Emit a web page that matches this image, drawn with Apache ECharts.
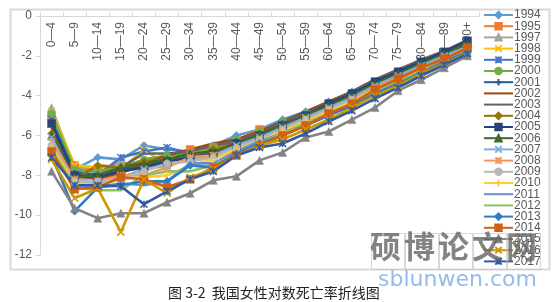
<!DOCTYPE html>
<html><head><meta charset="utf-8">
<script src="https://cdn.jsdelivr.net/npm/echarts@6/dist/echarts.min.js"></script>
<style>html,body{margin:0;padding:0;background:#fff;}#c{width:558px;height:302px;}</style>
</head><body><div id="c"></div>
<script>
const categories = ['0—4','5—9','10—14','15—19','20—24','25—29','30—34','35—39','40—44','45—49','50—54','55—59','60—64','65—69','70—74','75—79','80—84','85—89','90+'];
const yTicks = [0,-2,-4,-6,-8,-10,-12];
const seriesNames = ['1994','1995','1997','1998','1999','2000','2001','2002','2003','2004','2005','2006','2007','2008','2009','2010','2011','2012','2013','2014','2015','2016','2017'];
const seriesColors = ['#5B9BD5','#ED7D31','#A5A5A5','#FFC000','#4472C4','#70AD47','#255E91','#9E480E','#636363','#997300','#264478','#43682B','#7CAFDD','#F1975A','#B7B7B7','#FFCD33','#698ED0','#8CC168','#327DC2','#D26012','#848484','#CC9A00','#335AA1'];
const seriesMarkers = ['diamond','rect','triangle','x','star','circle','plus','none','none','diamond','rect','triangle','x','star','circle','plus','none','none','diamond','rect','triangle','x','star'];

const v1994 = [-5.0,-7.7,-7.1,-7.2,-6.5,-6.7,-6.8,-6.5,-6.0,-5.7,-5.2,-4.8,-4.3,-3.8,-3.3,-2.8,-2.3,-1.85,-1.45];
const v1995 = [-5.0,-7.5,-7.7,-7.8,-7.6,-7.3,-6.7,-6.6,-6.3,-5.7,-5.8,-5.5,-4.9,-4.4,-3.7,-3.1,-2.55,-2.1,-1.55];
const v1997 = [-4.6,-7.6,-7.9,-7.3,-7.7,-7.4,-7.0,-6.9,-6.4,-6.0,-5.5,-5.0,-4.5,-4.0,-3.4,-2.9,-2.4,-1.95,-1.5];
const v1998 = [-4.8,-7.5,-7.6,-7.7,-6.7,-7.5,-7.1,-6.7,-6.3,-6.0,-5.6,-5.2,-4.7,-4.2,-3.6,-3.1,-2.6,-2.1,-1.6];
const v1999 = [-5.2,-7.8,-8.0,-7.1,-6.8,-6.6,-6.9,-6.8,-6.5,-6.1,-5.6,-5.3,-4.8,-4.3,-3.8,-3.3,-2.75,-2.25,-1.75];
const v2000 = [-4.9,-7.7,-7.8,-7.6,-7.2,-7.0,-7.0,-6.6,-6.2,-5.8,-5.3,-4.9,-4.4,-3.9,-3.3,-2.8,-2.3,-1.85,-1.4];
const v2001 = [-5.3,-7.9,-8.0,-7.7,-7.5,-7.2,-7.0,-6.8,-6.3,-5.9,-5.4,-5.0,-4.5,-4.0,-3.4,-2.9,-2.4,-1.9,-1.4];
const v2002 = [-5.6,-8.0,-8.2,-7.9,-7.4,-7.0,-6.7,-6.4,-6.2,-5.8,-5.3,-4.8,-4.3,-3.8,-3.2,-2.7,-2.25,-1.8,-1.3];
const v2003 = [-5.8,-8.1,-8.1,-7.6,-6.9,-6.9,-6.8,-6.5,-6.3,-5.9,-5.3,-4.9,-4.4,-3.8,-3.2,-2.7,-2.2,-1.75,-1.2];
const v2004 = [-5.9,-8.2,-7.5,-7.6,-7.3,-7.2,-7.1,-6.7,-6.4,-6.0,-5.5,-5.0,-4.5,-4.0,-3.4,-2.9,-2.4,-1.9,-1.45];
const v2005 = [-5.4,-8.0,-8.1,-7.8,-7.6,-7.3,-7.1,-6.9,-6.4,-6.0,-5.5,-5.0,-4.4,-3.9,-3.3,-2.8,-2.3,-1.8,-1.25];
const v2006 = [-6.0,-8.1,-8.0,-7.6,-7.4,-7.2,-6.9,-6.8,-6.5,-5.9,-5.5,-5.0,-4.5,-4.0,-3.4,-2.9,-2.4,-1.9,-1.4];
const v2007 = [-6.1,-8.3,-8.4,-8.1,-7.7,-7.5,-7.2,-7.0,-6.5,-6.1,-5.6,-5.1,-4.6,-4.1,-3.5,-3.0,-2.5,-2.0,-1.55];
const v2008 = [-6.3,-8.2,-8.3,-8.0,-8.0,-7.6,-7.1,-7.0,-6.7,-6.2,-5.7,-5.2,-4.7,-4.2,-3.6,-3.1,-2.6,-2.1,-1.6];
const v2009 = [-6.5,-8.3,-8.3,-8.2,-7.8,-7.4,-7.3,-7.1,-6.6,-6.2,-5.7,-5.2,-4.7,-4.2,-3.7,-3.2,-2.7,-2.2,-1.65];
const v2010 = [-6.6,-8.4,-8.5,-8.2,-8.1,-8.0,-7.5,-7.2,-6.7,-6.3,-5.8,-5.3,-4.8,-4.3,-3.7,-3.2,-2.7,-2.2,-1.7];
const v2011 = [-6.8,-8.5,-8.6,-8.4,-8.5,-8.3,-7.4,-7.4,-6.8,-6.3,-5.9,-5.4,-4.9,-4.4,-3.8,-3.3,-2.8,-2.25,-1.75];
const v2012 = [-6.7,-8.6,-8.75,-8.75,-8.0,-7.8,-7.8,-7.5,-6.9,-6.4,-5.9,-5.4,-4.9,-4.4,-3.8,-3.3,-2.8,-2.3,-1.75];
const v2013 = [-7.0,-9.8,-8.6,-8.5,-8.3,-8.3,-7.5,-7.6,-6.9,-6.4,-6.0,-5.5,-5.0,-4.5,-3.9,-3.4,-2.85,-2.3,-1.8];
const v2014 = [-6.8,-8.7,-8.6,-8.1,-8.2,-8.6,-8.2,-7.6,-7.0,-6.5,-6.0,-5.5,-4.9,-4.4,-3.7,-3.15,-2.6,-2.15,-1.6];
const v2015 = [-7.8,-9.65,-10.15,-9.9,-9.9,-9.35,-8.9,-8.25,-8.05,-7.25,-6.85,-6.1,-5.8,-5.2,-4.6,-3.75,-3.2,-2.6,-2.0];
const v2016 = [-7.2,-9.15,-8.65,-10.85,-8.2,-8.9,-8.1,-7.7,-7.0,-6.5,-6.2,-5.7,-5.2,-4.6,-4.0,-3.5,-2.9,-2.4,-1.85];
const v2017 = [-7.1,-8.5,-8.5,-8.55,-9.45,-8.8,-8.2,-7.8,-7.0,-6.6,-6.4,-5.9,-5.3,-4.75,-4.15,-3.6,-3.0,-2.45,-1.9];

const seriesValues = [v1994,v1995,v1997,v1998,v1999,v2000,v2001,v2002,v2003,v2004,v2005,v2006,v2007,v2008,v2009,v2010,v2011,v2012,v2013,v2014,v2015,v2016,v2017];

const symbolMap = {
  diamond: {symbol:'diamond', size:8, stroke:false, show:true},
  rect: {symbol:'rect', size:8, stroke:false, show:true},
  triangle: {symbol:'triangle', size:8, stroke:false, show:true},
  circle: {symbol:'circle', size:7, stroke:false, show:true},
  x: {symbol:'path://M0,0L10,10M10,0L0,10', size:7, stroke:true, show:true},
  star: {symbol:'path://M0,0L10,10M10,0L0,10M5,0L5,10', size:7, stroke:true, show:true},
  plus: {symbol:'path://M5,0L5,10M0,5L10,5', size:7, stroke:true, show:true},
  none: {symbol:'path://M0,4L10,4L10,6L0,6Z', size:[7,2], stroke:false, show:false}
};

const series = seriesNames.map((name, i) => {
  const m = symbolMap[seriesMarkers[i]];
  const c = seriesColors[i];
  return {
    name: name,
    type: 'line',
    data: seriesValues[i],
    symbol: m.symbol,
    symbolSize: m.size,
    symbolKeepAspect: true,
    showSymbol: m.show,
    showAllSymbol: true,
    lineStyle: {color: c, width: 2.6},
    itemStyle: {color: c, borderColor: c, borderWidth: m.stroke ? 1.5 : 0.5},
    animation: false
  };
});

const legendData = seriesNames.map((name, i) => seriesMarkers[i] === 'none'
  ? {name: name, itemStyle: {opacity: 0}}
  : {name: name});

const chart = echarts.init(document.getElementById('c'), null, {renderer:'canvas'});
const wmChars = ['硕','博','论','文','网'];
const graphics = [
  {type:'rect', left: 8, top: 7, shape:{width: 539, height: 260}, style:{fill:'none', stroke:'#d9d9d9', lineWidth: 2}, z: -1, silent: true},
  {type:'text', left: 168, top: 286, style:{text:'图 3-2  我国女性对数死亡率折线图', fill:'#222', font:'14px "Noto Sans CJK SC", sans-serif'}},
  {type:'text', left: 378, top: 269, style:{text:'sblunwen.com', fill:'rgba(130,175,230,0.85)', font:'22px "DejaVu Sans", sans-serif'}, z: 100}
];
wmChars.forEach((ch, i) => {
  graphics.push({type:'rect', left: 369 + i*34, top: 231, shape:{width: 33, height: 36}, style:{fill:'none', stroke:'rgba(190,190,190,0.6)', lineWidth: 1}, z: 99, silent: true});
  graphics.push({type:'text', left: 370 + i*34, top: 231, style:{text: ch, fill:'rgba(100,100,100,0.8)', font:'bold 31px "Noto Sans CJK SC", sans-serif'}, z: 100});
});

chart.setOption({
  animation: false,
  backgroundColor: '#ffffff',
  color: seriesColors,
  grid: {left: 40, right: 79, top: 16, bottom: 47, containLabel: false},
  xAxis: {
    type: 'category',
    data: categories,
    position: 'top',
    boundaryGap: true,
    axisLine: {show: true, onZero: false, lineStyle: {color: '#d9d9d9', width: 1}},
    axisTick: {show: true, inside: false, length: 4, lineStyle: {color: '#d9d9d9'}},
    axisLabel: {inside: true, rotate: -90, interval: 0, color: '#595959', fontSize: 12, fontFamily: 'Liberation Sans, Arial, sans-serif', margin: 6}
  },
  yAxis: {
    type: 'value',
    min: -12, max: 0, interval: 2,
    axisLine: {show: true, lineStyle: {color: '#d9d9d9', width: 1}},
    axisTick: {show: true, length: 4, lineStyle: {color: '#d9d9d9'}},
    splitLine: {show: false},
    axisLabel: {color: '#595959', fontSize: 12, fontFamily: 'Liberation Sans, Arial, sans-serif', margin: 8,
      formatter: v => yTicks.indexOf(v) >= 0 ? String(v) : ''}
  },
  legend: {
    orient: 'vertical',
    left: 483, top: 9,
    itemWidth: 29, itemHeight: 8,
    itemGap: -0.8,
    padding: 0,
    textStyle: {color: '#595959', fontSize: 12, lineHeight: 10, fontFamily: 'Liberation Sans, Arial, sans-serif', padding: [0,0,0,-4]},
    data: legendData
  },
  graphic: graphics,
  series: series
});
</script></body></html>
